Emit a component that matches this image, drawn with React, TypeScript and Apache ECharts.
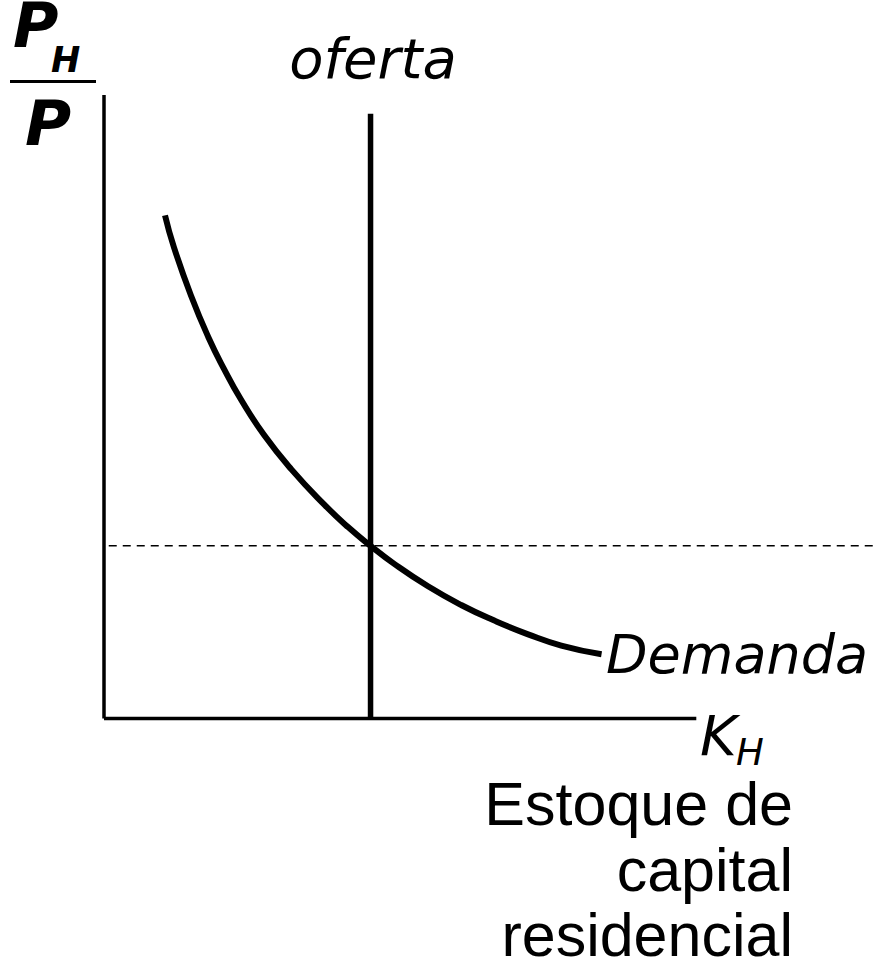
import React, { useEffect, useRef } from "react";
import * as echarts from "echarts";

// Demand curve (quantity K_H, relative price P_H/P)
const demandK = [10.3, 11.8, 14.7, 17.6, 20.3, 23.1, 27.0, 31.6, 37.2, 41.2, 45.0, 49.0, 54.7, 60.3, 65.9, 71.6, 77.2, 84.0];
const demandP = [80.7, 75.6, 67.8, 61.2, 56.0, 51.2, 45.5, 40.0, 34.3, 30.7, 27.7, 24.8, 21.2, 18.2, 15.7, 13.5, 11.7, 10.3];

// Fixed supply of residential capital (vertical line)
const supplyK = 45;
const supplyTop = 97;

// Equilibrium price (dashed line)
const eqPrice = 27.7;
const dashStart = 0.8;
const dashEnd = 130;

// Axes extents
const xAxisEnd = 100;
const yAxisEnd = 100;

const labelOferta = "oferta";
const labelDemanda = "Demanda";
const labelK = "K";
const labelKSub = "H";
const labelQuantity = ["Estoque de", "capital", "residencial"];
const labelP = "P";
const labelPSub = "H";

export default function App() {
  const ref = useRef<HTMLDivElement>(null);
  useEffect(() => {
    if (!ref.current) return;
    const chart = echarts.init(ref.current, null, { renderer: "svg" });
    const black = "#000";
    const line = (data: number[][], width: number, type: any = "solid") => ({
      type: "line",
      data,
      showSymbol: false,
      symbol: "none",
      clip: false,
      lineStyle: { color: black, width, type, cap: "butt" },
      silent: true,
    });
    const verdanaLike = "'DejaVu Sans', Verdana, sans-serif";
    const arialLike = "'Liberation Sans', Arial, sans-serif";
    const txt = (text: string, x: number, y: number, size: number, opts: any = {}) => ({
      type: "text",
      x,
      y,
      silent: true,
      style: {
        text,
        fill: black,
        fontSize: size,
        lineHeight: opts.lineHeight || size,
        fontFamily: opts.family || verdanaLike,
        fontStyle: opts.style || "normal",
        fontWeight: opts.weight || "normal",
        textAlign: opts.align || "left",
        textVerticalAlign: "middle",
      },
    });
    chart.setOption({
      animation: false,
      grid: { left: 104, right: 0, top: 95, bottom: 243.5 },
      xAxis: { type: "value", min: 0, max: 130, show: false },
      yAxis: { type: "value", min: 0, max: 100, show: false },
      series: [
        line([[0, 0], [0, yAxisEnd]], 3.5),
        line([[0, 0], [xAxisEnd, 0]], 3.5),
        line([[dashStart, eqPrice], [dashEnd, eqPrice]], 1.5, [8, 6]),
        line([[supplyK, 0], [supplyK, supplyTop]], 5.5),
        {
          ...line(demandK.map((k, i) => [k, demandP[i]]), 6),
          smooth: 0.5,
        },
      ],
      graphic: [
        txt(labelP, 13, 25, 62, { weight: "bold", style: "italic", lineHeight: 44 }),
        txt(labelPSub, 51, 60, 35, { weight: "bold", style: "italic", lineHeight: 24 }),
        { type: "rect", shape: { x: 10, y: 80, width: 86, height: 3 }, style: { fill: black }, silent: true },
        txt(labelP, 25, 123, 63, { weight: "bold", style: "italic", lineHeight: 46 }),
        txt(labelOferta, 373, 58, 56, { style: "italic", align: "center" }),
        txt(labelDemanda, 606, 654, 54, { style: "italic" }),
        txt(labelK, 700, 735, 56, { style: "italic", lineHeight: 40 }),
        txt(labelKSub, 736, 752, 37, { style: "italic", lineHeight: 28 }),
        txt(labelQuantity[0], 793, 804, 61, { family: arialLike, align: "right", lineHeight: 54 }),
        txt(labelQuantity[1], 793, 870, 61, { family: arialLike, align: "right", lineHeight: 54 }),
        txt(labelQuantity[2], 793, 935, 61, { family: arialLike, align: "right", lineHeight: 50 }),
      ],
    });
    return () => chart.dispose();
  }, []);
  return <div ref={ref} style={{ width: 874, height: 962, position: "absolute", left: 0, top: 0 }} />;
}
